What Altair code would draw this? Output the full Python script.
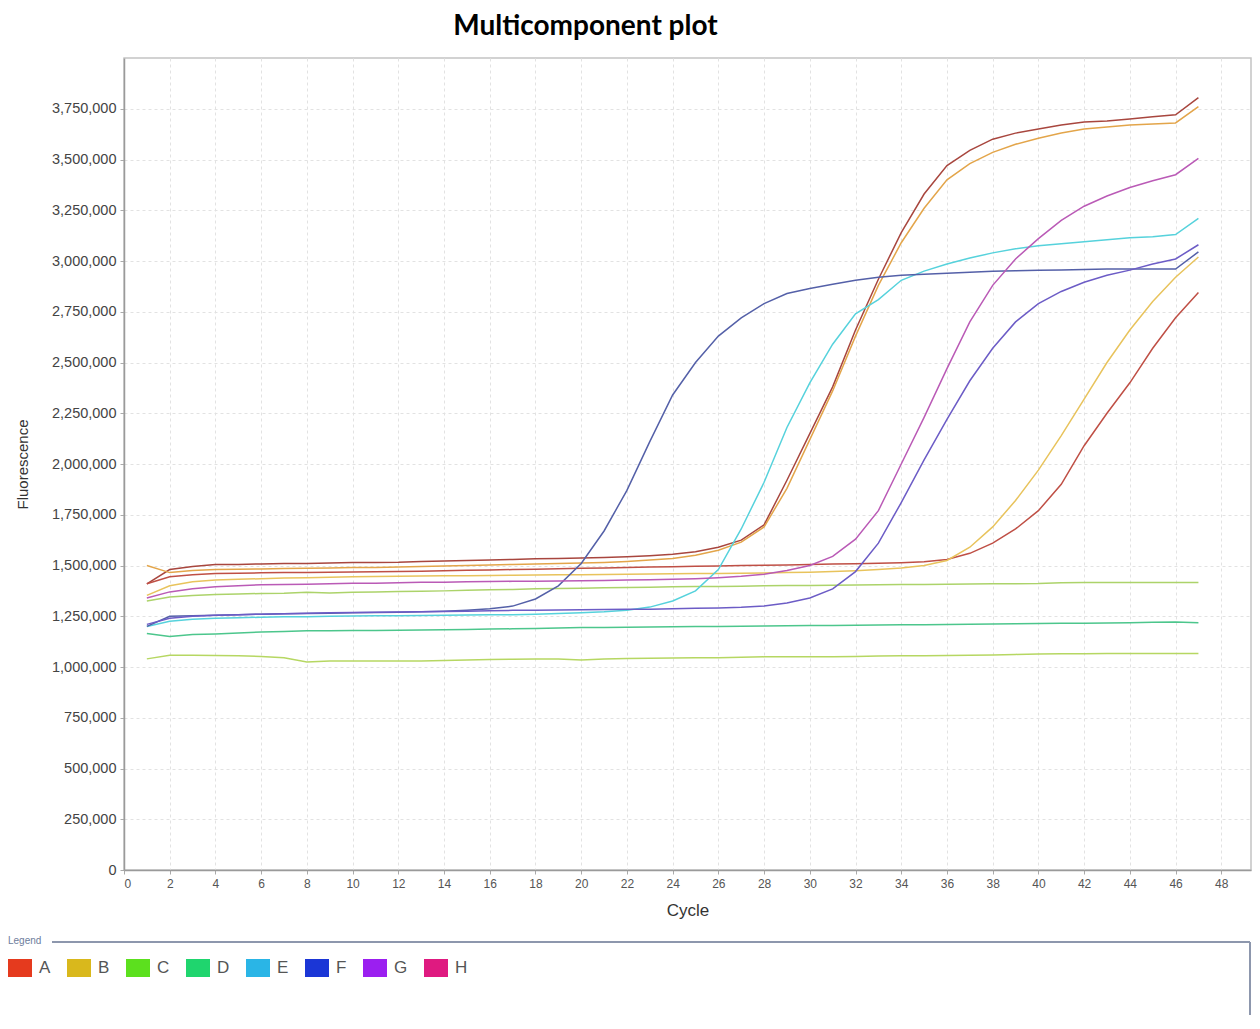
import altair as alt
import pandas as pd

# ---------------- data (fluorescence in thousands) ----------------
cycles = list(range(1, 48))

well_A1 = [1410, 1480, 1495, 1505, 1505, 1508, 1510, 1510, 1512, 1515, 1515, 1516, 1520, 1522, 1525, 1527,
           1530, 1533, 1535, 1537, 1540, 1543, 1548, 1555, 1568, 1590, 1625, 1700, 1920, 2150, 2380, 2660,
           2910, 3140, 3330, 3470, 3545, 3600, 3630, 3650, 3670, 3685, 3690, 3700, 3710, 3720, 3805]
well_B1 = [1500, 1465, 1475, 1480, 1482, 1483, 1485, 1487, 1488, 1490, 1490, 1492, 1495, 1497, 1500, 1502,
           1505, 1508, 1510, 1512, 1515, 1520, 1527, 1535, 1550, 1575, 1615, 1690, 1880, 2120, 2360, 2630,
           2880, 3090, 3260, 3400, 3480, 3535, 3575, 3605, 3630, 3650, 3660, 3670, 3675, 3680, 3760]
well_A2 = [1410, 1445, 1455, 1460, 1462, 1464, 1465, 1466, 1467, 1468, 1469, 1470, 1472, 1474, 1476, 1478,
           1480, 1482, 1484, 1486, 1488, 1490, 1492, 1494, 1496, 1498, 1500, 1501, 1503, 1505, 1507, 1509,
           1511, 1514, 1518, 1530, 1560, 1610, 1680, 1770, 1900, 2090, 2250, 2400, 2570, 2720, 2845]
well_B2 = [1353, 1400, 1420, 1428, 1432, 1435, 1438, 1440, 1442, 1445, 1446, 1447, 1448, 1449, 1450, 1451,
           1452, 1453, 1454, 1455, 1456, 1457, 1458, 1459, 1460, 1461, 1462, 1463, 1465, 1467, 1470, 1474,
           1480, 1488, 1500, 1525, 1590, 1690, 1820, 1970, 2140, 2320, 2500, 2660, 2800, 2920, 3020]
well_C1 = [1325, 1345, 1352, 1357, 1360, 1362, 1363, 1368, 1365, 1368, 1370, 1372, 1373, 1375, 1378, 1380,
           1382, 1385, 1387, 1388, 1390, 1392, 1393, 1395, 1396, 1397, 1398, 1400, 1401, 1402, 1403, 1404,
           1405, 1406, 1407, 1408, 1409, 1410, 1410, 1411, 1415, 1416, 1416, 1416, 1416, 1416, 1416]
well_C2 = [1040, 1058, 1058, 1057, 1055, 1052, 1045, 1025, 1030, 1030, 1030, 1030, 1030, 1032, 1035, 1037,
           1038, 1040, 1040, 1035, 1040, 1042, 1043, 1044, 1045, 1046, 1048, 1050, 1050, 1050, 1050, 1052,
           1054, 1055, 1056, 1057, 1058, 1059, 1062, 1064, 1065, 1065, 1066, 1066, 1066, 1066, 1066]
well_D1 = [1165, 1150, 1160, 1163, 1168, 1172, 1175, 1178, 1178, 1180, 1180, 1181, 1182, 1183, 1185, 1187,
           1188, 1190, 1192, 1194, 1195, 1196, 1197, 1198, 1199, 1200, 1201, 1202, 1203, 1204, 1205, 1206,
           1207, 1208, 1208, 1209, 1210, 1212, 1213, 1214, 1215, 1216, 1217, 1218, 1220, 1222, 1218]
well_E1 = [1200, 1225, 1235, 1240, 1243, 1245, 1247, 1248, 1250, 1251, 1252, 1253, 1254, 1255, 1256, 1257,
           1258, 1260, 1263, 1267, 1272, 1280, 1295, 1325, 1375, 1480, 1680, 1910, 2180, 2400, 2590, 2740,
           2810, 2905, 2950, 2985, 3015, 3040, 3060, 3075, 3085, 3095, 3105, 3115, 3120, 3130, 3210]
well_F1 = [1200, 1250, 1252, 1255, 1258, 1260, 1262, 1264, 1265, 1267, 1268, 1270, 1272, 1275, 1280, 1287,
           1300, 1335, 1400, 1510, 1670, 1870, 2110, 2340, 2500, 2630, 2720, 2790, 2840, 2865, 2885, 2905,
           2920, 2930, 2935, 2940, 2945, 2950, 2952, 2954, 2956, 2958, 2960, 2960, 2960, 2960, 3045]
well_G1 = [1210, 1240, 1250, 1255, 1258, 1260, 1262, 1265, 1267, 1268, 1270, 1271, 1272, 1274, 1275, 1277,
           1279, 1280, 1281, 1282, 1283, 1284, 1285, 1287, 1289, 1291, 1294, 1300, 1315, 1340, 1385, 1470,
           1610, 1810, 2020, 2220, 2410, 2570, 2700, 2790, 2850, 2895, 2930, 2955, 2985, 3010, 3080]
well_H1 = [1340, 1370, 1385, 1395, 1400, 1405, 1407, 1408, 1410, 1412, 1413, 1415, 1417, 1418, 1420, 1421,
           1422, 1423, 1424, 1425, 1426, 1428, 1430, 1432, 1435, 1440, 1447, 1457, 1475, 1500, 1545, 1630,
           1770, 2000, 2230, 2470, 2700, 2880, 3010, 3110, 3200, 3270, 3320, 3362, 3395, 3425, 3505]

wells = ["A1", "B1", "A2", "B2", "C1", "C2", "D1", "E1", "F1", "G1", "H1"]
well_rows = ["A", "B", "A", "B", "C", "C", "D", "E", "F", "G", "H"]
series = [well_A1, well_B1, well_A2, well_B2, well_C1, well_C2, well_D1, well_E1, well_F1, well_G1, well_H1]
well_line_colors = ["#a8463e", "#e3a54a", "#bf4f45", "#e8c35c", "#acd36a", "#b6d762", "#4cc68c",
                    "#56d2dc", "#5460a8", "#6c5cc6", "#ba5ab6"]

rows = ["A", "B", "C", "D", "E", "F", "G", "H"]
row_colors = ["#e53a1e", "#d9b81c", "#5ce01e", "#1fd56e", "#2ab5e6", "#1b36d6", "#9b1ff0", "#df1a80"]

x_ticks = list(range(0, 49, 2))
y_ticks = [i * 250000 for i in range(16)]

records = []
for w, r, vals in zip(wells, well_rows, series):
    for c, v in zip(cycles, vals):
        records.append({"well": w, "row": r, "cycle": c, "fluorescence": v * 1000})
df = pd.DataFrame(records)

# ---------------- chart ----------------
W, H = 1127, 812

lines = alt.Chart(df).mark_line(strokeWidth=1.5).encode(
    x=alt.X("cycle:Q",
            scale=alt.Scale(domain=[0, 49.3], nice=False, zero=False),
            axis=alt.Axis(values=x_ticks, title="Cycle", titleY=45, titleBaseline="alphabetic",
                          titleFontSize=17, titleFontWeight="normal", labelFontSize=12,
                          labelColor="#555555", titleColor="#333333")),
    y=alt.Y("fluorescence:Q",
            scale=alt.Scale(domain=[0, 4000000], nice=False),
            axis=alt.Axis(values=y_ticks, format=",d", title="Fluorescence", titleX=-97, titleY=H / 2,
                          titleBaseline="alphabetic", titleAlign="center", titleFontSize=15,
                          titleFontWeight="normal", labelFontSize=14.5, labelColor="#444444",
                          titleColor="#333333")),
    color=alt.Color("well:N", scale=alt.Scale(domain=wells, range=well_line_colors), legend=None),
    detail="well:N",
)

legend_df = pd.DataFrame({"row": rows})
legend_layer = alt.Chart(legend_df).mark_square(opacity=0).encode(
    color=alt.Color("row:N", scale=alt.Scale(domain=rows, range=row_colors),
                    legend=alt.Legend(title="Legend", orient="none", legendX=-116, legendY=878,
                                      direction="horizontal", symbolType="M-1,-0.75H1V0.75H-1Z",
                                      symbolSize=576, symbolOpacity=1, symbolStrokeWidth=0,
                                      labelFontSize=17, labelColor="#555555", labelFont="Liberation Sans",
                                      labelOffset=7, columnPadding=16, titleFontSize=10,
                                      titleFontWeight="normal", titleColor="#6d7d9c", titlePadding=10,
                                      titleFont="Liberation Sans"))
)

box_df = pd.DataFrame({"k": [0]})
hline = alt.Chart(box_df).mark_rule(color="#8d97ad", strokeWidth=2).encode(
    x=alt.value(-72), x2=alt.value(1126), y=alt.value(884))
vline = alt.Chart(box_df).mark_rule(color="#8d97ad", strokeWidth=2).encode(
    x=alt.value(1126), y=alt.value(884), y2=alt.value(960))

chart = alt.layer(lines, legend_layer, hline, vline).resolve_scale(color="independent").properties(
    width=W, height=H,
    autosize=alt.AutoSizeParams(type="none"),
    padding={"left": 116, "top": 50, "right": 1, "bottom": 145},
    title=alt.Title("Multicomponent plot", font="Lato", fontSize=28, fontWeight="bold", color="#000000",
                    anchor="middle", dx=-102, dy=31, offset=26, baseline="alphabetic"),
).configure_view(
    stroke="#c4c4c4", strokeWidth=1.5
).configure_axis(
    labelFont="Liberation Sans", titleFont="Liberation Sans",
    grid=True, gridColor="#e2e2e2", gridDash=[3, 3], gridWidth=1,
    domainColor="#9a9a9a", domainWidth=1.5, tickColor="#aaaaaa", tickSize=4, labelPadding=4,
)

chart.save("out.html", embed_options={"renderer": "svg", "actions": False})
